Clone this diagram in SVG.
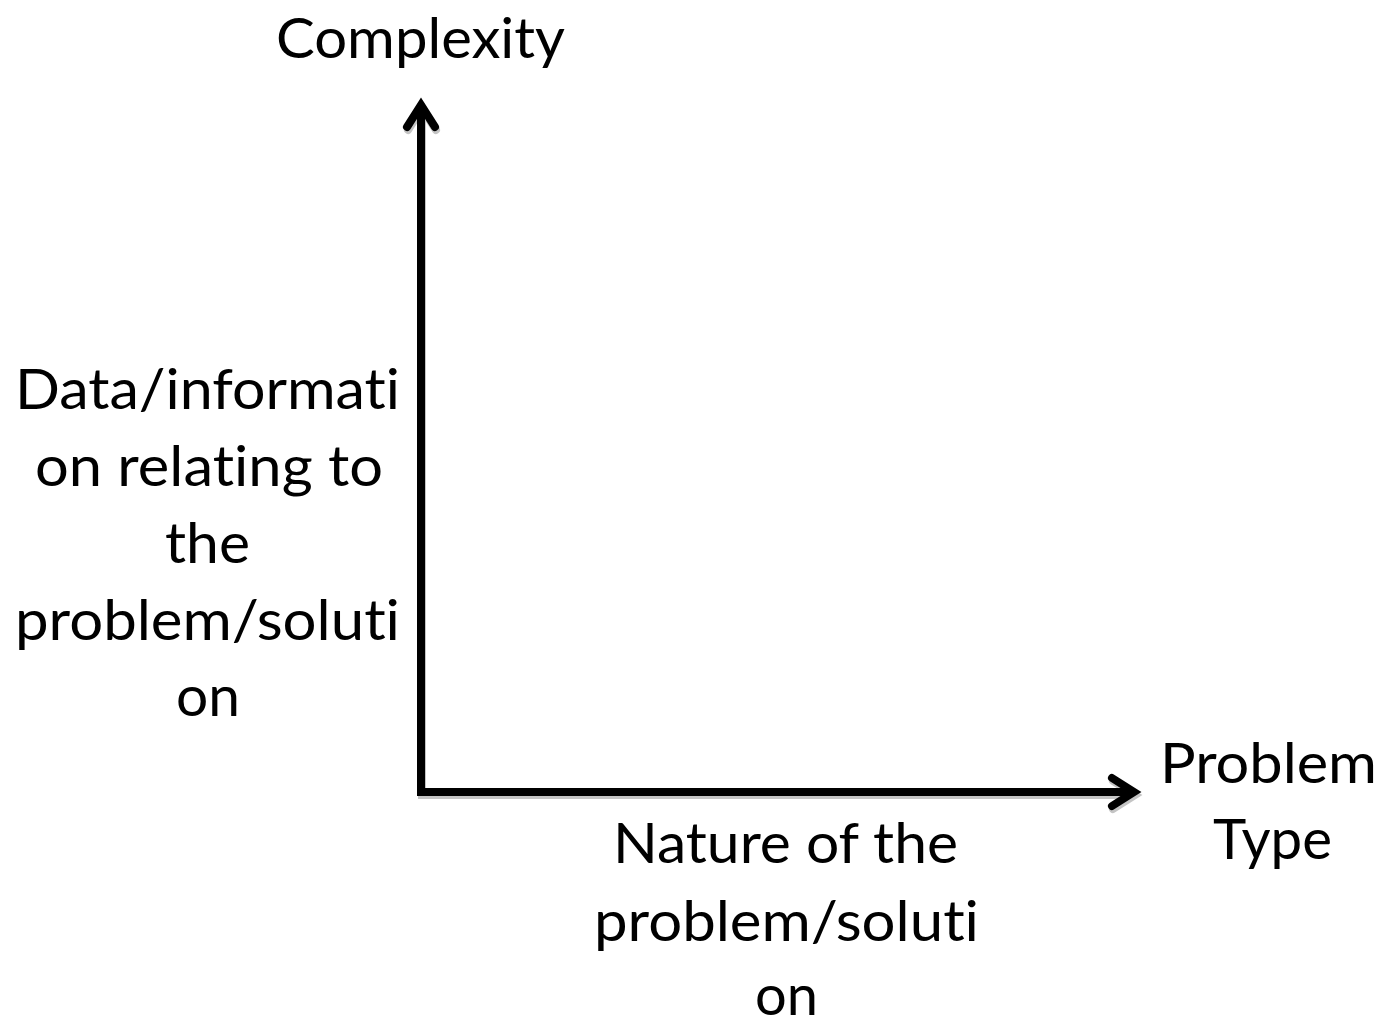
<svg xmlns="http://www.w3.org/2000/svg" width="1382" height="1018" viewBox="0 0 1382 1018">
<style>
  text { font-family: Lato, "Open Sans", "Liberation Sans", sans-serif; font-size: 57px; fill: #000; text-anchor: middle; font-variant-ligatures: none; font-feature-settings: "liga" 0, "clig" 0; }
  .ax { fill: none; stroke: #000; stroke-width: 8; }
  .sh { fill: none; stroke: #c4c4c4; stroke-width: 8; }
</style>
<rect width="1382" height="1018" fill="#fff"/>
<g id="connectors">
  <g transform="translate(1,3)">
    <path class="sh" d="M421,106 L421,792 L1134,792" stroke-linejoin="miter"/>
    <path class="sh" d="M407,127 L421,105 L435,127" stroke-linecap="round" stroke-linejoin="miter"/>
    <path class="sh" d="M1112,778 L1134,792 L1112,806" stroke-linecap="round" stroke-linejoin="miter"/>
  </g>
  <path class="ax" d="M421,106 L421,792 L1134,792" stroke-linejoin="miter"/>
  <path class="ax" d="M407,127 L421,105 L435,127" stroke-linecap="round" stroke-linejoin="miter"/>
  <path class="ax" d="M1112,778 L1134,792 L1112,806" stroke-linecap="round" stroke-linejoin="miter"/>
</g>
<g id="label-complexity">
  <text x="420.5" y="58" textLength="289" lengthAdjust="spacingAndGlyphs">Complexity</text>
</g>
<g id="label-data">
  <text x="207.5" y="409" textLength="385" lengthAdjust="spacingAndGlyphs">Data/informati</text>
  <text x="209" y="486" textLength="348" lengthAdjust="spacingAndGlyphs">on relating to</text>
  <text x="207.5" y="563" textLength="85" lengthAdjust="spacingAndGlyphs">the</text>
  <text x="207.5" y="640" textLength="385" lengthAdjust="spacingAndGlyphs">problem/soluti</text>
  <text x="208" y="716" textLength="64" lengthAdjust="spacingAndGlyphs">on</text>
</g>
<g id="label-nature">
  <text x="785.5" y="863" textLength="345" lengthAdjust="spacingAndGlyphs">Nature of the</text>
  <text x="786.5" y="941" textLength="385" lengthAdjust="spacingAndGlyphs">problem/soluti</text>
  <text x="786.5" y="1015" textLength="63" lengthAdjust="spacingAndGlyphs">on</text>
</g>
<g id="label-problem-type">
  <text x="1268.5" y="783" textLength="217" lengthAdjust="spacingAndGlyphs">Problem</text>
  <text x="1272.5" y="859" textLength="119" lengthAdjust="spacingAndGlyphs">Type</text>
</g>
</svg>
